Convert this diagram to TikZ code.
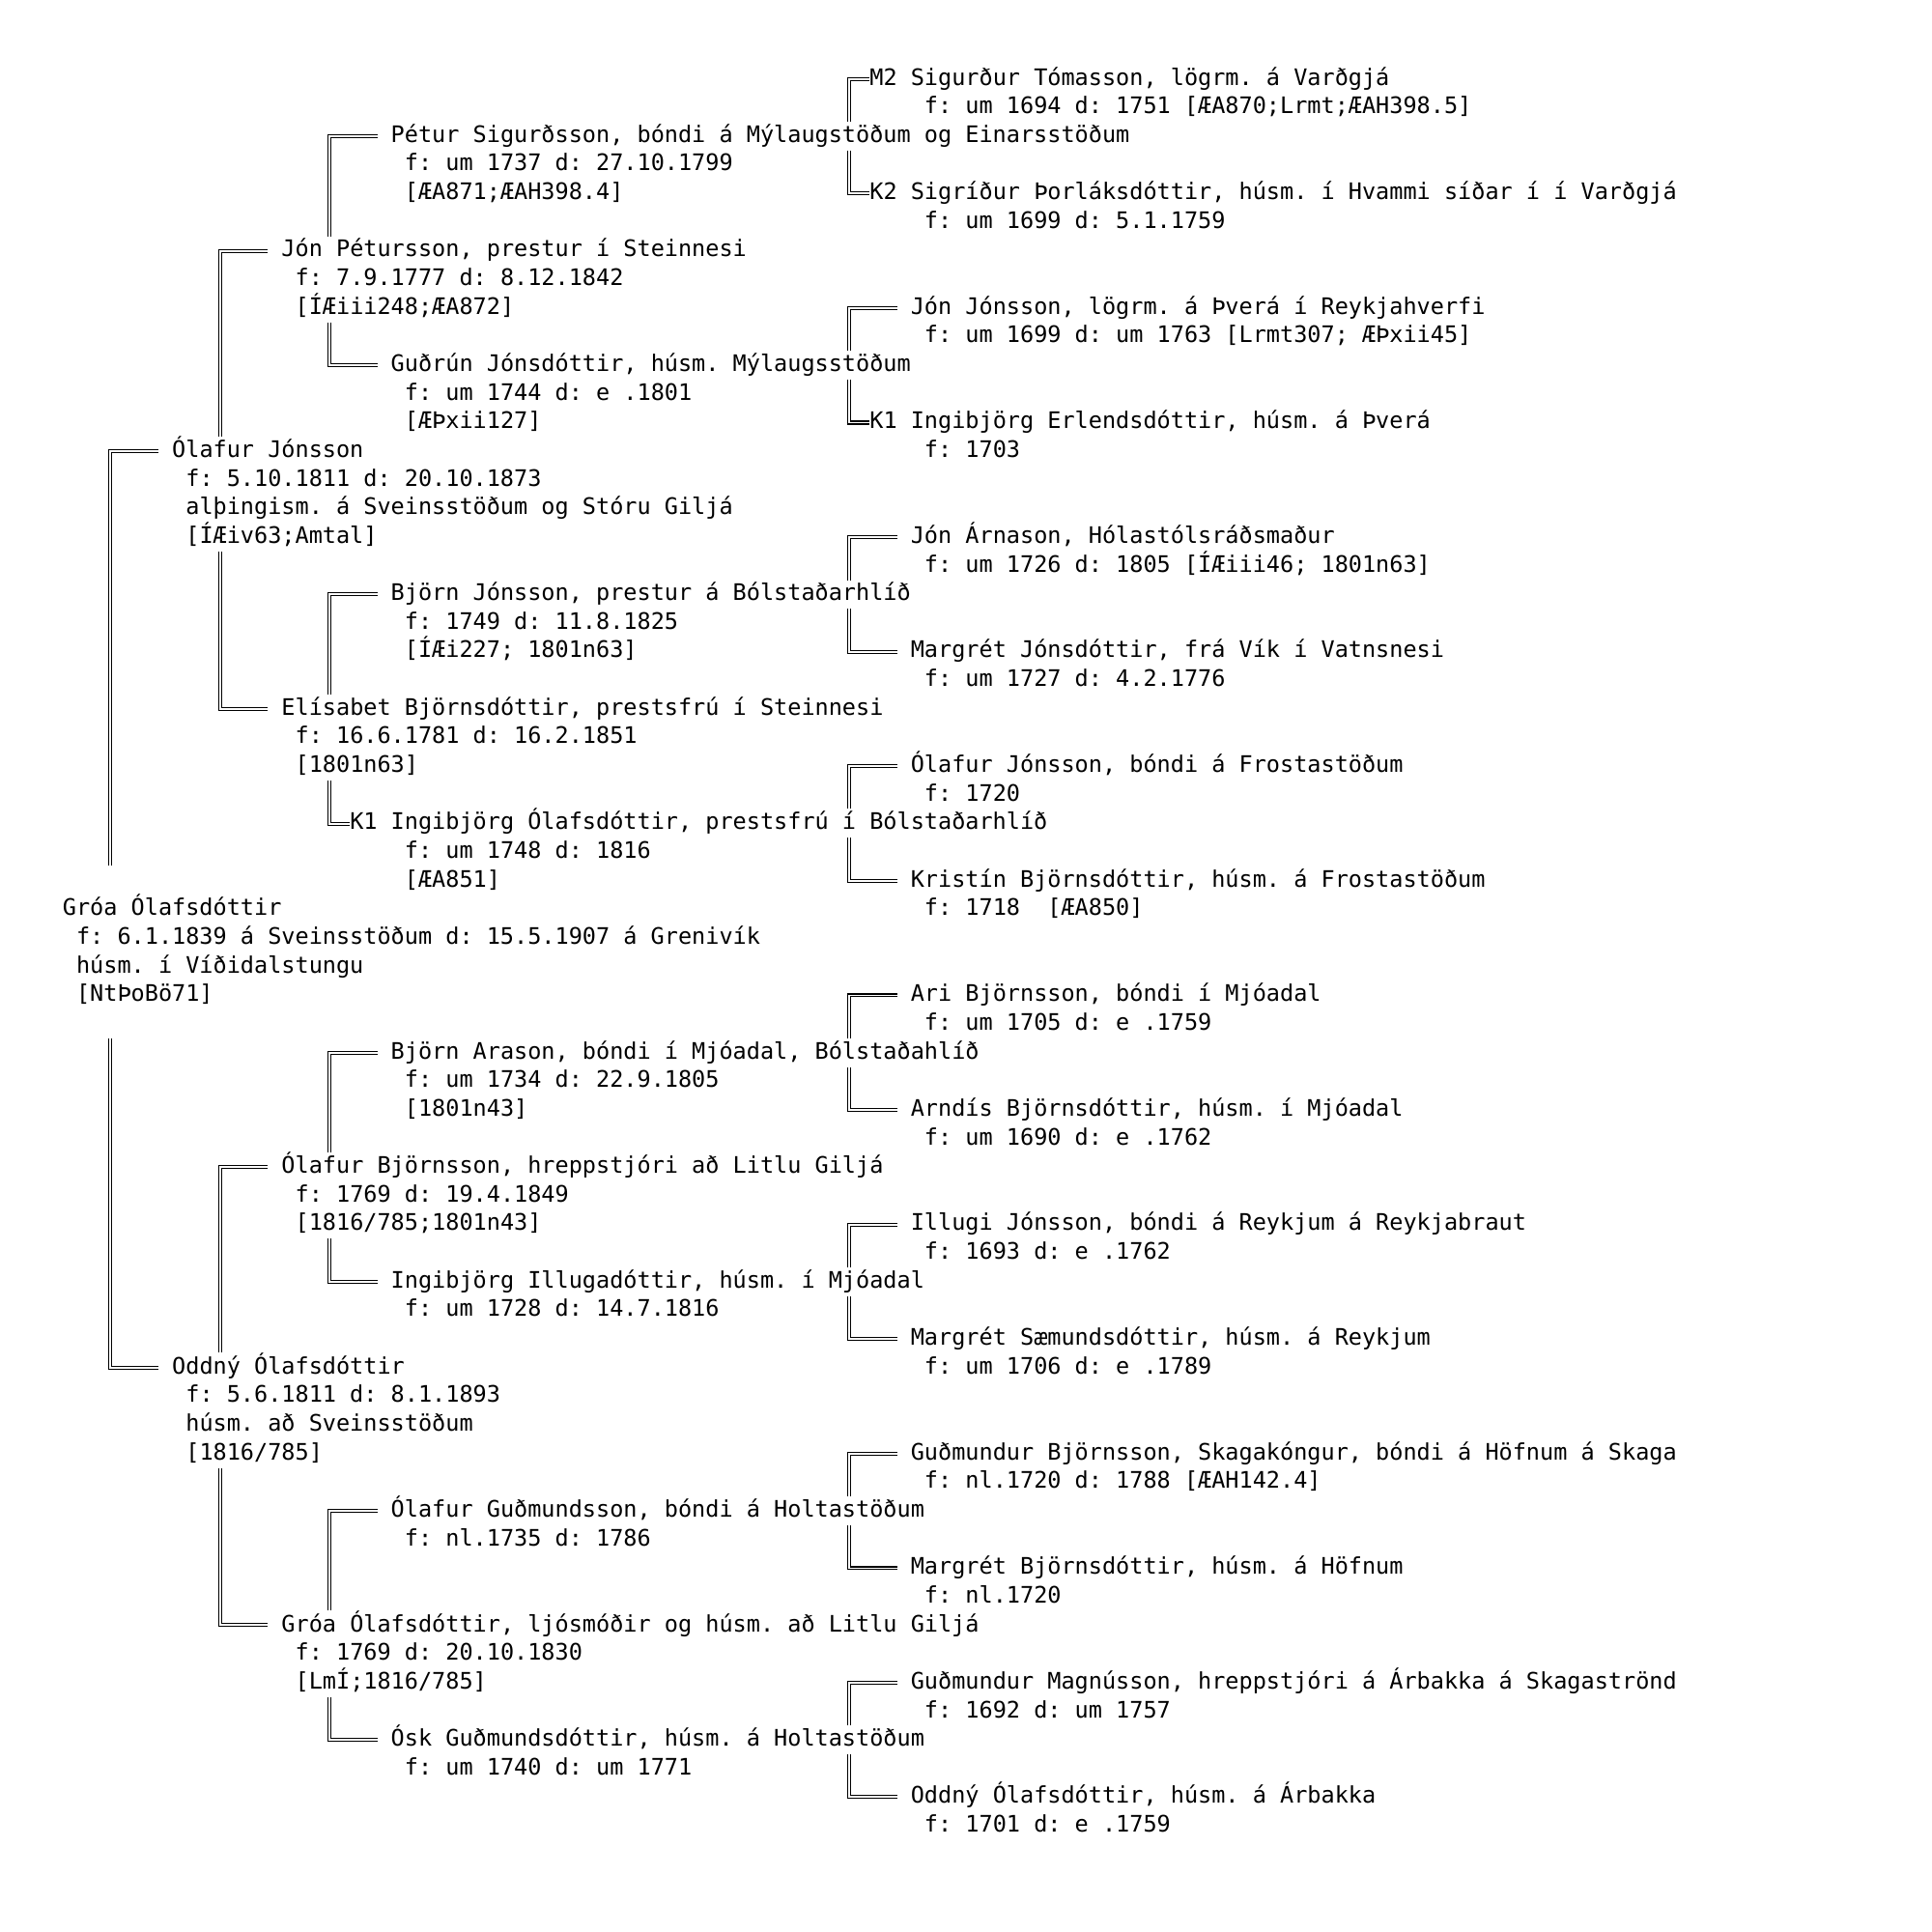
\documentclass[tikz,border=0pt]{standalone}
\usepackage{fontspec}
\setmonofont{DejaVu Sans Mono}
\usetikzlibrary{positioning, calc}
\frenchspacing
\AtBeginDocument{\lineskiplimit=-10pt}
\newcommand\treefont{\ttfamily\fontsize{6.692pt}{8.436pt}\selectfont}
\newcommand\cellstrut{\vrule height 6.016pt depth 2.42pt width 0pt}
\newcommand\ind{\cellstrut}
\tikzset{
  txt/.style={inner sep=0pt, outer sep=0pt, text=black, font=\treefont},
  namenode/.style={txt, anchor=base west, execute at begin node=\cellstrut},
  marknode/.style={namenode},
  infonode/.style={txt, align=left, anchor=north west, xshift=1.416mm},
  famline/.style={draw=black, line width=0.3pt, double=white, double distance=0.55pt}
}
\begin{document}
\begin{tikzpicture}[x=0.1416cm, y=-0.2965cm]

  \useasboundingbox (-0.649cm,0.88cm) rectangle (19.351cm,-19.12cm);

  % generation columns
  \coordinate (g1) at (3.5,0);
  \coordinate (g2) at (11.5,0);
  \coordinate (g3) at (19.5,0);
  \coordinate (g4) at (57.5,0);

  % Gróa
  \node[namenode] (groa) at (0,29) {Gróa Ólafsdóttir};
  \node[below=0pt of groa.south west, infonode] (groa-d)
    {\ind f: 6.1.1839 á Sveinsstöðum d: 15.5.1907 á Grenivík\\\ind húsm. í Víðidalstungu\\\ind [NtÞoBö71]};

  % Parents
  \node[namenode] (olafur) at (8,13) {Ólafur Jónsson};
  \node[below=0pt of olafur.south west, infonode] (olafur-d)
    {\ind f: 5.10.1811 d: 20.10.1873\\\ind alþingism. á Sveinsstöðum og Stóru Giljá\\\ind [ÍÆiv63;Amtal]};
  \node[namenode] (oddny) at (8,45) {Oddný Ólafsdóttir};
  \node[below=0pt of oddny.south west, infonode] (oddny-d)
    {\ind f: 5.6.1811 d: 8.1.1893\\\ind húsm. að Sveinsstöðum\\\ind [1816/785]};

  % Grandparents
  \node[namenode] (jonp) at (16,6) {Jón Pétursson, prestur í Steinnesi};
  \node[below=0pt of jonp.south west, infonode] (jonp-d)
    {\ind f: 7.9.1777 d: 8.12.1842\\\ind [ÍÆiii248;ÆA872]};
  \node[namenode] (elisabet) at (16,22) {Elísabet Björnsdóttir, prestsfrú í Steinnesi};
  \node[below=0pt of elisabet.south west, infonode] (elisabet-d)
    {\ind f: 16.6.1781 d: 16.2.1851\\\ind [1801n63]};
  \node[namenode] (olafurb) at (16,38) {Ólafur Björnsson, hreppstjóri að Litlu Giljá};
  \node[below=0pt of olafurb.south west, infonode] (olafurb-d)
    {\ind f: 1769 d: 19.4.1849\\\ind [1816/785;1801n43]};
  \node[namenode] (groao) at (16,54) {Gróa Ólafsdóttir, ljósmóðir og húsm. að Litlu Giljá};
  \node[below=0pt of groao.south west, infonode] (groao-d)
    {\ind f: 1769 d: 20.10.1830\\\ind [LmÍ;1816/785]};

  % Great-grandparents
  \node[namenode] (petur) at (24,2) {Pétur Sigurðsson, bóndi á Mýlaugstöðum og Einarsstöðum};
  \node[below=0pt of petur.south west, infonode] (petur-d)
    {\ind f: um 1737 d: 27.10.1799\\\ind [ÆA871;ÆAH398.4]};
  \node[namenode] (gudrun) at (24,10) {Guðrún Jónsdóttir, húsm. Mýlaugsstöðum};
  \node[below=0pt of gudrun.south west, infonode] (gudrun-d)
    {\ind f: um 1744 d: e .1801\\\ind [ÆÞxii127]};
  \node[namenode] (bjornj) at (24,18) {Björn Jónsson, prestur á Bólstaðarhlíð};
  \node[below=0pt of bjornj.south west, infonode] (bjornj-d)
    {\ind f: 1749 d: 11.8.1825\\\ind [ÍÆi227; 1801n63]};
  \node[marknode] (ingibjorgo-m) at (21,26) {K1};
  \node[namenode] (ingibjorgo) at (24,26) {Ingibjörg Ólafsdóttir, prestsfrú í Bólstaðarhlíð};
  \node[below=0pt of ingibjorgo.south west, infonode] (ingibjorgo-d)
    {\ind f: um 1748 d: 1816\\\ind [ÆA851]};
  \node[namenode] (bjorna) at (24,34) {Björn Arason, bóndi í Mjóadal, Bólstaðahlíð};
  \node[below=0pt of bjorna.south west, infonode] (bjorna-d)
    {\ind f: um 1734 d: 22.9.1805\\\ind [1801n43]};
  \node[namenode] (ingibjorgi) at (24,42) {Ingibjörg Illugadóttir, húsm. í Mjóadal};
  \node[below=0pt of ingibjorgi.south west, infonode] (ingibjorgi-d)
    {\ind f: um 1728 d: 14.7.1816};
  \node[namenode] (olafurg) at (24,50) {Ólafur Guðmundsson, bóndi á Holtastöðum};
  \node[below=0pt of olafurg.south west, infonode] (olafurg-d)
    {\ind f: nl.1735 d: 1786};
  \node[namenode] (osk) at (24,58) {Ósk Guðmundsdóttir, húsm. á Holtastöðum};
  \node[below=0pt of osk.south west, infonode] (osk-d)
    {\ind f: um 1740 d: um 1771};

  % Great-great-grandparents
  \node[marknode] (sigurdur-m) at (59,0) {M2};
  \node[namenode] (sigurdur) at (62,0) {Sigurður Tómasson, lögrm. á Varðgjá};
  \node[below=0pt of sigurdur.south west, infonode] (sigurdur-d)
    {\ind f: um 1694 d: 1751 [ÆA870;Lrmt;ÆAH398.5]};
  \node[marknode] (sigridur-m) at (59,4) {K2};
  \node[namenode] (sigridur) at (62,4) {Sigríður Þorláksdóttir, húsm. í Hvammi síðar í í Varðgjá};
  \node[below=0pt of sigridur.south west, infonode] (sigridur-d)
    {\ind f: um 1699 d: 5.1.1759};
  \node[namenode] (jonj) at (62,8) {Jón Jónsson, lögrm. á Þverá í Reykjahverfi};
  \node[below=0pt of jonj.south west, infonode] (jonj-d)
    {\ind f: um 1699 d: um 1763 [Lrmt307; ÆÞxii45]};
  \node[marknode] (ingibjorge-m) at (59,12) {K1};
  \node[namenode] (ingibjorge) at (62,12) {Ingibjörg Erlendsdóttir, húsm. á Þverá};
  \node[below=0pt of ingibjorge.south west, infonode] (ingibjorge-d)
    {\ind f: 1703};
  \node[namenode] (jona) at (62,16) {Jón Árnason, Hólastólsráðsmaður};
  \node[below=0pt of jona.south west, infonode] (jona-d)
    {\ind f: um 1726 d: 1805 [ÍÆiii46; 1801n63]};
  \node[namenode] (margretj) at (62,20) {Margrét Jónsdóttir, frá Vík í Vatnsnesi};
  \node[below=0pt of margretj.south west, infonode] (margretj-d)
    {\ind f: um 1727 d: 4.2.1776};
  \node[namenode] (olafurf) at (62,24) {Ólafur Jónsson, bóndi á Frostastöðum};
  \node[below=0pt of olafurf.south west, infonode] (olafurf-d)
    {\ind f: 1720};
  \node[namenode] (kristin) at (62,28) {Kristín Björnsdóttir, húsm. á Frostastöðum};
  \node[below=0pt of kristin.south west, infonode] (kristin-d)
    {\ind f: 1718\ \ [ÆA850]};
  \node[namenode] (ari) at (62,32) {Ari Björnsson, bóndi í Mjóadal};
  \node[below=0pt of ari.south west, infonode] (ari-d)
    {\ind f: um 1705 d: e .1759};
  \node[namenode] (arndis) at (62,36) {Arndís Björnsdóttir, húsm. í Mjóadal};
  \node[below=0pt of arndis.south west, infonode] (arndis-d)
    {\ind f: um 1690 d: e .1762};
  \node[namenode] (illugi) at (62,40) {Illugi Jónsson, bóndi á Reykjum á Reykjabraut};
  \node[below=0pt of illugi.south west, infonode] (illugi-d)
    {\ind f: 1693 d: e .1762};
  \node[namenode] (margrets) at (62,44) {Margrét Sæmundsdóttir, húsm. á Reykjum};
  \node[below=0pt of margrets.south west, infonode] (margrets-d)
    {\ind f: um 1706 d: e .1789};
  \node[namenode] (gudmundurb) at (62,48) {Guðmundur Björnsson, Skagakóngur, bóndi á Höfnum á Skaga};
  \node[below=0pt of gudmundurb.south west, infonode] (gudmundurb-d)
    {\ind f: nl.1720 d: 1788 [ÆAH142.4]};
  \node[namenode] (margretb) at (62,52) {Margrét Björnsdóttir, húsm. á Höfnum};
  \node[below=0pt of margretb.south west, infonode] (margretb-d)
    {\ind f: nl.1720};
  \node[namenode] (gudmundurm) at (62,56) {Guðmundur Magnússon, hreppstjóri á Árbakka á Skagaströnd};
  \node[below=0pt of gudmundurm.south west, infonode] (gudmundurm-d)
    {\ind f: 1692 d: um 1757};
  \node[namenode] (oddnya) at (62,60) {Oddný Ólafsdóttir, húsm. á Árbakka};
  \node[below=0pt of oddnya.south west, infonode] (oddnya-d)
    {\ind f: 1701 d: e .1759};

  % Lines to Gróa
  \draw[famline] ([xshift=-1.416mm]olafur.west) -| ($(groa.north -| g1)+(0,-1)$);
  \draw[famline] ($(groa-d.south -| g1)+(0,1)$) |- ([xshift=-1.416mm]oddny.west);

  % Lines to the parents
  \draw[famline] ([xshift=-1.416mm]jonp.west) -| (olafur.north -| g2);
  \draw[famline] (olafur-d.south -| g2) |- ([xshift=-1.416mm]elisabet.west);
  \draw[famline] ([xshift=-1.416mm]olafurb.west) -| (oddny.north -| g2);
  \draw[famline] (oddny-d.south -| g2) |- ([xshift=-1.416mm]groao.west);

  % Lines to the grandparents
  \draw[famline] ([xshift=-1.416mm]petur.west) -| (jonp.north -| g3);
  \draw[famline] (jonp-d.south -| g3) |- ([xshift=-1.416mm]gudrun.west);
  \draw[famline] ([xshift=-1.416mm]bjornj.west) -| (elisabet.north -| g3);
  \draw[famline] (elisabet-d.south -| g3) |- (ingibjorgo-m.west);
  \draw[famline] ([xshift=-1.416mm]bjorna.west) -| (olafurb.north -| g3);
  \draw[famline] (olafurb-d.south -| g3) |- ([xshift=-1.416mm]ingibjorgi.west);
  \draw[famline] ([xshift=-1.416mm]olafurg.west) -| (groao.north -| g3);
  \draw[famline] (groao-d.south -| g3) |- ([xshift=-1.416mm]osk.west);

  % Lines to the great-grandparents
  \draw[famline] (sigurdur-m.west) -| (petur.north -| g4);
  \draw[famline] (petur.south -| g4) |- (sigridur-m.west);
  \draw[famline] ([xshift=-1.416mm]jonj.west) -| (gudrun.north -| g4);
  \draw[famline] (gudrun.south -| g4) |- (ingibjorge-m.west);
  \draw[famline] ([xshift=-1.416mm]jona.west) -| (bjornj.north -| g4);
  \draw[famline] (bjornj.south -| g4) |- ([xshift=-1.416mm]margretj.west);
  \draw[famline] ([xshift=-1.416mm]olafurf.west) -| (ingibjorgo.north -| g4);
  \draw[famline] (ingibjorgo.south -| g4) |- ([xshift=-1.416mm]kristin.west);
  \draw[famline] ([xshift=-1.416mm]ari.west) -| (bjorna.north -| g4);
  \draw[famline] (bjorna.south -| g4) |- ([xshift=-1.416mm]arndis.west);
  \draw[famline] ([xshift=-1.416mm]illugi.west) -| (ingibjorgi.north -| g4);
  \draw[famline] (ingibjorgi.south -| g4) |- ([xshift=-1.416mm]margrets.west);
  \draw[famline] ([xshift=-1.416mm]gudmundurb.west) -| (olafurg.north -| g4);
  \draw[famline] (olafurg.south -| g4) |- ([xshift=-1.416mm]margretb.west);
  \draw[famline] ([xshift=-1.416mm]gudmundurm.west) -| (osk.north -| g4);
  \draw[famline] (osk.south -| g4) |- ([xshift=-1.416mm]oddnya.west);

\end{tikzpicture}
\end{document}
